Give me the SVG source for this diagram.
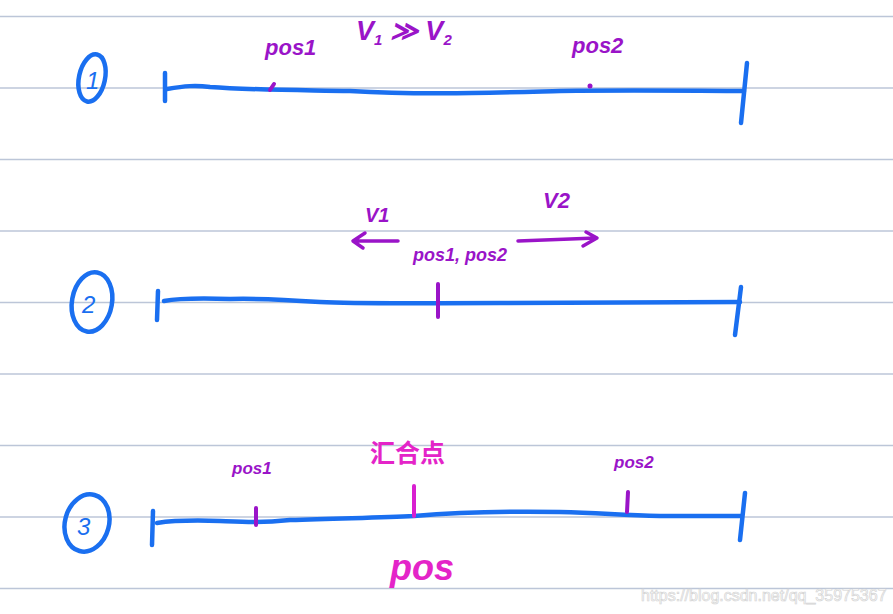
<svg xmlns="http://www.w3.org/2000/svg" width="893" height="614" viewBox="0 0 893 614">
<style>
.rule{stroke:#bcc6d8;stroke-width:1.5;fill:none}
.blue{stroke:#1a6ff0;stroke-width:4.5;fill:none;stroke-linecap:round;stroke-linejoin:round}
.tick{stroke:#9a14c8;stroke-width:4;fill:none;stroke-linecap:round}
.mtick{stroke:#d81fd0;stroke-width:4;fill:none;stroke-linecap:round}
.arr{stroke:#9a14c8;stroke-width:3.5;fill:none;stroke-linecap:round;stroke-linejoin:round}
.pt{fill:#9a14c8;font-family:"Liberation Sans",Arial,sans-serif;font-style:italic;font-weight:bold}
.mt{fill:#e424c8;font-family:"Liberation Sans","Noto Sans CJK SC",sans-serif;font-weight:bold}
.num{fill:#1a6ff0;font-family:"Liberation Sans",Arial,sans-serif;font-style:italic;font-size:24px}
</style>
<rect width="893" height="614" fill="#ffffff"/>
<g id="rules">
<line class="rule" x1="0" y1="16.5" x2="893" y2="16.5"/>
<line class="rule" x1="0" y1="88" x2="893" y2="88"/>
<line class="rule" x1="0" y1="159.5" x2="893" y2="159.5"/>
<line class="rule" x1="0" y1="231" x2="893" y2="231"/>
<line class="rule" x1="0" y1="302.5" x2="893" y2="302.5"/>
<line class="rule" x1="0" y1="374" x2="893" y2="374"/>
<line class="rule" x1="0" y1="445.5" x2="893" y2="445.5"/>
<line class="rule" x1="0" y1="517" x2="893" y2="517"/>
<line class="rule" x1="0" y1="588.5" x2="893" y2="588.5"/>
</g>
<g id="row1">
<ellipse class="blue" cx="92" cy="78" rx="13" ry="24" transform="rotate(12 92 78)" stroke-width="3.5"/>
<text class="num" x="86" y="89" font-size="22">1</text>
<path class="blue" d="M165 73 L165 101"/>
<path class="blue" d="M167 89 C185 86 195 85 210 87 C250 90 300 90 350 91 C420 95 480 93 560 91 C640 90 700 91 744 91"/>
<path class="blue" d="M747 63 L741 123"/>
<path d="M270 90 L274 84" stroke="#9a14c8" stroke-width="4" stroke-linecap="round"/>
<circle cx="590" cy="86" r="2.5" fill="#9a14c8"/>
<text class="pt" x="265" y="55" font-size="22">pos1</text>
<text class="pt" x="356" y="40" font-size="27">V<tspan font-size="15" dy="5">1</tspan><tspan dy="-5"> ≫ V</tspan><tspan font-size="15" dy="5">2</tspan></text>
<text class="pt" x="572" y="53" font-size="22">pos2</text>
</g>
<g id="row2">
<ellipse class="blue" cx="92" cy="302" rx="20" ry="30" transform="rotate(10 92 302)" stroke-width="3.5"/>
<text class="num" x="82" y="313">2</text>
<path class="blue" d="M158 291 L157 320"/>
<path class="blue" d="M164 301 C180 298 200 298 230 299 C260 298 290 300 320 302 C360 304 420 303 500 303 C600 303 680 302 740 302"/>
<path class="blue" d="M741 287 L735 335"/>
<path class="tick" d="M438 284 L438 317"/>
<text class="pt" x="365" y="222" font-size="20">V1</text>
<text class="pt" x="543" y="208" font-size="22">V2</text>
<text class="pt" x="413" y="261" font-size="18">pos1, pos2</text>
</g>
<g id="row3">
<ellipse class="blue" cx="87" cy="523" rx="22" ry="29" transform="rotate(15 87 523)" stroke-width="3.5"/>
<text class="num" x="77" y="535">3</text>
<path class="blue" d="M153 511 L152 545"/>
<path class="blue" d="M157 523 C170 521 190 520 220 521 C245 522 260 523 290 520 C340 518 380 518 414 516 C450 513 500 511 560 512 C600 513 620 515 660 516 C700 516 720 516 741 516"/>
<path class="blue" d="M745 493 L740 540"/>
<path class="tick" d="M256 508 L256 525"/>
<path class="mtick" d="M414 486 L414 516"/>
<path class="tick" d="M628 492 L627 512"/>
<text class="pt" x="232" y="474" font-size="17">pos1</text>
<text class="mt" x="370" y="462" font-size="25">汇合点</text>
<text class="pt" x="614" y="468" font-size="17">pos2</text>
<text class="mt" x="390" y="580" font-size="36" font-style="italic">pos</text>
</g>
<g id="connectors">
<path class="arr" d="M398 241 L354 241 M365 233 L353 241 L363 248"/>
<path class="arr" d="M518 241 C545 240 570 239 596 238 M586 232 L597 238 L583 246"/>
</g>
<text x="641" y="601" font-family="Liberation Sans,Arial,sans-serif" font-size="16" fill="#ffffff" stroke="#d4d4d4" stroke-width="0.7">https://blog.csdn.net/qq_35975367</text>
</svg>
